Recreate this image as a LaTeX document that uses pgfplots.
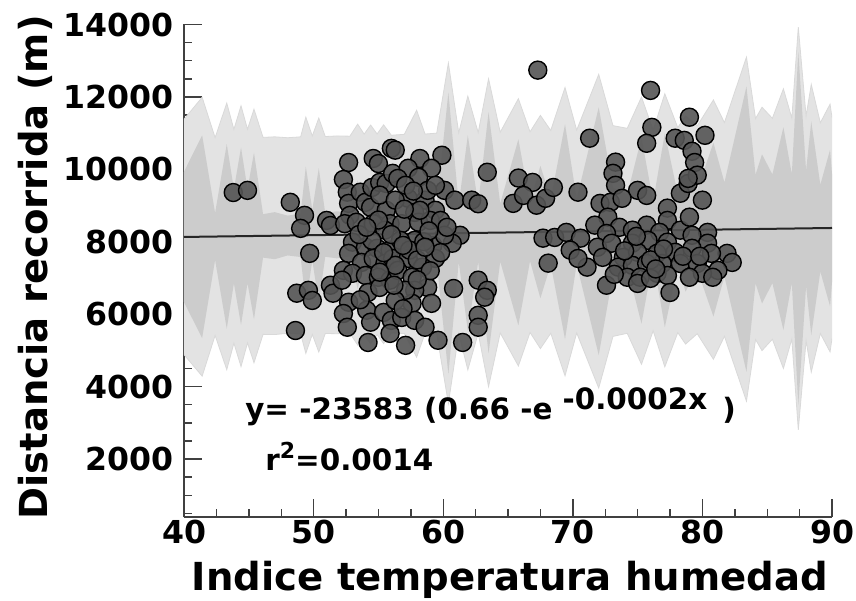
\documentclass[border=0pt]{standalone}
\usepackage{pgfplots}
\pgfplotsset{compat=1.18}
\usepackage{pgfplotstable}
\usepgfplotslibrary{fillbetween}
\usepackage{fontspec}
\setmainfont{DejaVu Sans}

% band: x, centre (fitted line), half-width of dark band (d), half-width of light band (l)
\pgfplotstableread{
x c d l
40.0 8133 1800 3250
41.4 8140 2800 3850
42.4 8145 650 2730
43.3 8149 2550 3680
43.85 8152 1300 2950
44.4 8155 2450 3600
44.9 8157 1300 2950
45.4 8160 2300 3500
46.1 8163 600 2720
47.0 8168 650 2730
48.0 8173 550 2700
49.0 8178 600 2720
49.4 8180 1900 3260
49.9 8182 700 2740
50.4 8185 1850 3230
50.9 8187 600 2720
51.8 8192 650 2730
52.8 8196 600 2720
53.4 8199 1500 3050
53.9 8202 800 2770
54.4 8204 1450 3020
54.9 8207 800 2770
55.4 8209 1450 3020
56.0 8212 650 2730
57.0 8217 750 2750
57.95 8222 2150 3410
58.6 8225 750 2750
59.5 8230 800 2770
60.4 8234 3890 4700
61.2 8238 800 2770
61.9 8242 2700 3780
62.7 8246 800 2770
63.5 8250 3330 4250
64.4 8254 800 2770
65.8 8261 2570 3690
66.7 8266 800 2770
67.5 8270 1830 3220
68.3 8274 900 2800
69.4 8279 2970 3980
70.3 8283 900 2800
72.0 8292 3420 4330
73.1 8297 1200 2910
74.2 8303 1000 2830
75.3 8308 2570 3690
76.2 8313 800 2770
77.1 8317 2680 3770
78.1 8322 1000 2830
78.7 8325 1700 3150
79.6 8330 1100 2870
80.85 8336 2400 3580
81.7 8340 1300 2950
83.4 8349 3940 4750
84.1 8352 1500 3050
84.6 8355 2060 3360
85.4 8359 1500 3050
86.25 8363 2800 3860
86.9 8366 1500 3050
87.4 8369 4880 5560
88.0 8371 1600 3100
88.4 8373 2950 3970
89.1 8377 1200 2910
89.85 8380 2160 3420
90.0 8381 1500 3050
}\band

\pgfplotstableread{
x y
43.8 9360
44.9 9420
48.2 9090
49.3 8730
49.0 8370
51.0 8590
51.3 8450
49.7 7680
48.7 6580
49.6 6660
49.9 6380
48.6 5550
51.3 6800
51.5 6580
52.7 10190
52.3 9720
52.6 9370
52.7 9060
52.8 8730
52.4 8500
53.3 8540
53.6 9370
54.0 9090
54.6 10300
55.0 10160
56.0 10580
54.5 9500
55.1 9640
55.6 9610
56.1 9890
54.4 8950
55.6 8870
54.6 8500
55.9 8500
53.0 7990
54.0 7850
54.9 7820
55.9 7770
52.7 7680
53.7 7430
54.6 7540
55.5 7400
56.1 7540
52.3 7210
53.0 7130
54.0 7070
55.0 7020
55.9 6940
52.2 6940
54.2 6600
55.1 6740
52.7 6330
52.3 6020
52.6 5640
54.1 6110
54.4 5780
55.4 6050
56.0 5830
54.2 5220
55.9 5470
56.3 10530
58.2 10300
59.9 10390
57.3 10030
59.1 10030
56.5 9750
58.1 9780
60.1 9420
60.9 9150
62.2 9150
63.4 9920
57.3 9200
58.6 9150
59.4 8870
57.8 8810
56.8 8500
58.1 8540
59.0 8590
61.3 8180
60.7 7960
59.2 7900
59.4 7540
57.8 8040
57.3 7540
58.4 7300
56.5 7210
57.6 7020
58.8 6740
57.8 6660
60.8 6710
62.7 6940
63.4 6660
63.2 6470
57.6 6300
59.1 6300
56.8 5910
57.8 5830
58.6 5640
62.7 5970
62.7 5640
57.1 5140
59.6 5280
61.5 5220
55.1 9290
56.3 9150
57.1 9560
55.5 8320
56.7 8040
54.5 8040
57.4 7770
56.3 7350
55.1 7160
57.1 6660
56.3 6380
58.2 8870
58.8 9420
59.4 9560
59.8 8590
60.1 8180
62.7 9050
58.5 8000
59.8 7700
58.0 7500
60.3 8400
56.0 8200
53.5 8200
55.0 8600
57.0 8900
58.9 8300
57.7 9400
59.0 7200
58.0 6950
56.2 6800
53.6 6400
56.9 7900
55.4 7700
58.6 7850
54.1 8400
56.9 6150
65.4 9060
65.8 9760
66.9 9640
66.2 9280
67.2 9010
67.9 9200
68.5 9500
70.4 9370
71.3 10860
67.3 12740
67.7 8100
68.6 8120
69.5 8260
70.6 8100
68.1 7410
69.8 7770
71.1 7300
72.6 6800
72.1 9060
72.9 9090
76.1 11160
75.7 10720
77.9 10860
73.3 10200
73.1 9890
73.3 9560
75.0 9420
75.7 9280
73.8 9200
78.3 9340
78.9 9610
77.3 8930
72.7 8680
77.3 8590
71.7 8460
73.6 8400
75.7 8460
72.6 8230
74.6 8320
76.7 8260
78.3 8320
71.9 7850
73.0 7960
74.6 7960
75.8 8040
77.3 7990
70.4 7540
72.3 7570
73.9 7570
75.0 7710
76.5 7680
77.9 7710
73.5 7300
74.6 7350
75.7 7400
76.9 7400
78.3 7400
74.2 7020
75.2 7020
76.5 7130
77.3 7070
77.5 6600
75.0 6850
76.0 6990
76.0 12180
79.0 11440
80.2 10940
78.6 10800
79.2 10500
79.4 10190
79.6 9840
78.9 9750
80.0 9150
79.0 8680
80.4 8260
79.2 8180
80.4 7960
81.9 7680
82.3 7430
79.2 7820
80.7 7680
79.6 7400
81.2 7210
80.0 7130
80.8 7020
79.0 7020
74.0 7750
76.0 7500
77.0 7800
74.9 8150
73.2 7100
76.4 7250
78.5 7600
79.8 7600
}\pts

\begin{document}
\begin{tikzpicture}
\begin{axis}[
  at={(0,0)}, anchor=south west,
  scale only axis, width=324pt, height=246.25pt,
  xmin=40, xmax=90, ymin=400, ymax=14000,
  axis x line=bottom, axis y line=left,
  axis line style={-, draw=black!75, line width=1pt},
  xtick={40,50,...,90}, ytick={0,2000,...,14000},
  minor x tick num=3, minor y tick num=3,
  tick align=inside,
  major tick length=9pt, minor tick length=4pt,
  tick style={black!75, line width=0.7pt},
  scaled ticks=false,
  /pgf/number format/1000 sep={},
  /pgf/number format/assume math mode=true,
  ticklabel style={font=\fontsize{15.8}{16}\selectfont\bfseries},
  xticklabel style={yshift=2pt},
  yticklabel style={xshift=-1.5pt},
  xlabel={Indice temperatura humedad},
  ylabel={Distancia recorrida (m)},
  label style={font=\fontsize{19.3}{20}\selectfont\bfseries},
  xlabel style={at={(rel axis cs:0.503,-0.128)}, anchor=center},
  ylabel style={at={(rel axis cs:-0.23,0.5066)}, anchor=center},
  clip=true,
]
\addplot[name path=lu, draw=black!15, line width=0.4pt, forget plot] table[x=x, y expr=\thisrow{c}+\thisrow{l}] {\band};
\addplot[name path=ll, draw=black!15, line width=0.4pt, forget plot] table[x=x, y expr=\thisrow{c}-\thisrow{l}] {\band};
\addplot[fill=black!11, draw=none, forget plot] fill between[of=lu and ll];
\addplot[name path=du, draw=none, forget plot] table[x=x, y expr=\thisrow{c}+\thisrow{d}] {\band};
\addplot[name path=dl, draw=none, forget plot] table[x=x, y expr=\thisrow{c}-\thisrow{d}] {\band};
\addplot[fill=black!20, draw=none, forget plot] fill between[of=du and dl];
\addplot[black!85, line width=1pt] coordinates {(40,8133) (90,8381)};
\addplot[only marks, mark=*, mark size=4.5pt,
  mark options={fill=black!67, draw=black, line width=0.7pt, fill opacity=0.9}] table[x=x,y=y] {\pts};
\node[anchor=base west, inner sep=0pt, font=\fontsize{14.7}{15}\selectfont\bfseries]
  at (axis cs:44.7,3100) {y= -23583 (0.66 -e \raisebox{5pt}{-0.0002x}\ \,)};
\node[anchor=base west, inner sep=0pt, font=\fontsize{14.7}{15}\selectfont\bfseries]
  at (axis cs:46.25,1690) {r\raisebox{6pt}{\fontsize{11}{11}\selectfont 2}=0.0014};
\end{axis}
\pgfresetboundingbox
\useasboundingbox (-92pt,-41.5pt) rectangle (336pt,258.5pt);
\end{tikzpicture}
\end{document}
